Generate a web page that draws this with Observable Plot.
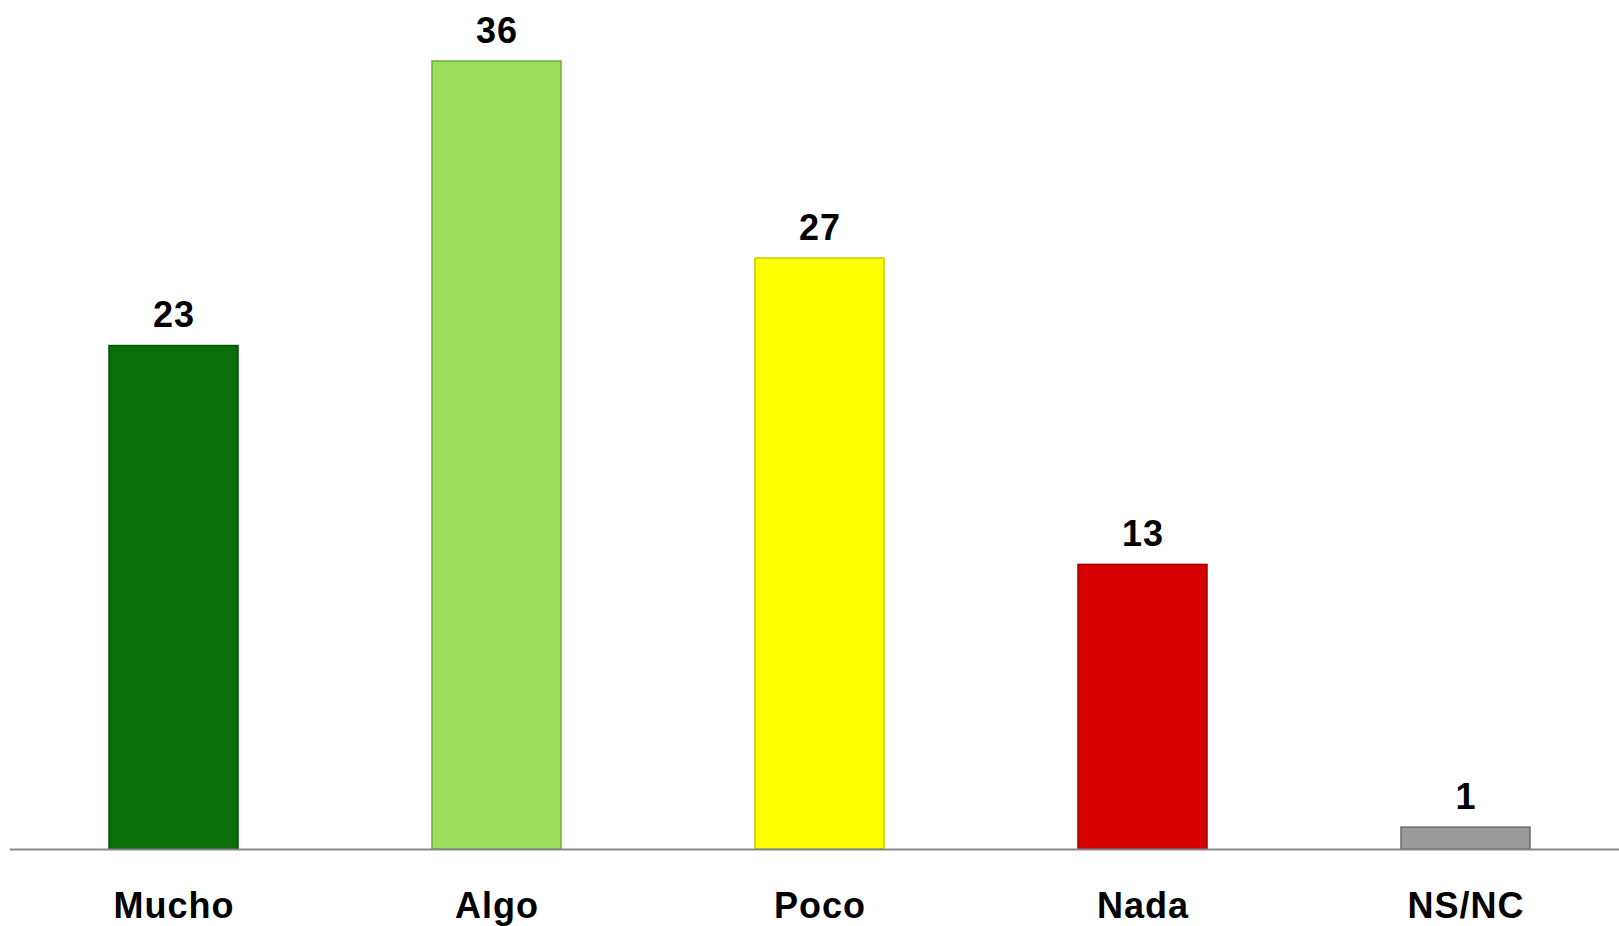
<!DOCTYPE html>
<html>
<head>
<meta charset="utf-8">
<script src="https://cdn.jsdelivr.net/npm/d3@7"></script>
<script src="https://cdn.jsdelivr.net/npm/@observablehq/plot@0.6"></script>
<style>
  html, body { margin: 0; padding: 0; background: #ffffff; }
  #chart { width: 1619px; height: 926px; }
  #chart svg text { letter-spacing: 1px; }
</style>
</head>
<body>
<div id="chart"></div>
<script>
const categories = ["Mucho", "Algo", "Poco", "Nada", "NS/NC"];
const values = [23, 36, 27, 13, 1];
const colors = ["#0a6e0a", "#9ddf5d", "#ffff00", "#d80000", "#9a9a9a"];
const strokes = ["#064d06", "#6fae38", "#c9c900", "#9a0000", "#6a6a6a"];

const data = categories.map((c, i) => ({category: c, value: values[i], fill: colors[i], stroke: strokes[i]}));

const chart = Plot.plot({
  width: 1619,
  height: 926,
  marginTop: 61,
  marginBottom: 77,
  marginLeft: 10,
  marginRight: 0,
  style: {fontFamily: "'Liberation Sans', Arial, sans-serif", background: "#ffffff"},
  x: {domain: categories, range: [75, 1565], paddingInner: 0.6, paddingOuter: 0.1, label: null},
  y: {domain: [0, 36], axis: null},
  marks: [
    Plot.barY(data, {x: "category", y: "value", fill: d => d.fill, stroke: d => d.stroke, strokeWidth: 1.5}),
    Plot.ruleY([0], {stroke: "#888888", strokeWidth: 2}),
    Plot.text(data, {x: "category", y: "value", text: d => String(d.value), dy: -19, lineAnchor: "bottom", fontSize: 36, fontWeight: "bold", fill: "#000000"}),
    Plot.axisX({tickSize: 0, tickPadding: 43, fontSize: 36, fontWeight: "bold", fill: "#000000", label: null})
  ]
});
document.getElementById("chart").appendChild(chart);
</script>
</body>
</html>
